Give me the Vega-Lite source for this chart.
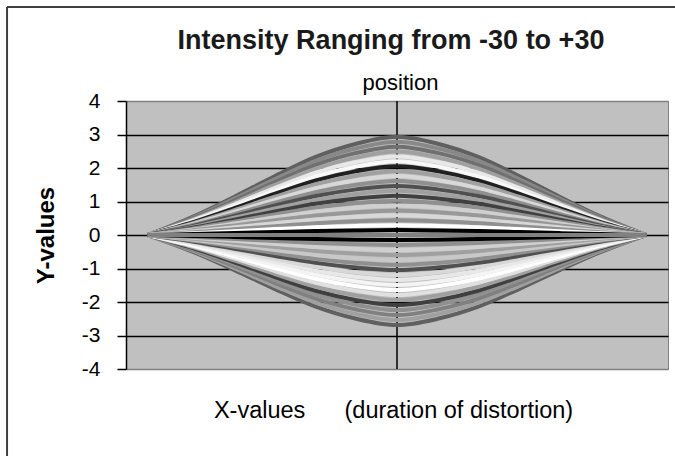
{
  "$schema": "https://vega.github.io/schema/vega-lite/v6.json",
  "width": 542,
  "height": 268,
  "autosize": {"type": "none"},
  "padding": {"left": 126, "top": 101, "right": 7, "bottom": 87},
  "background": "#ffffff",
  "title": {"text": "Intensity Ranging from -30 to +30", "fontSize": 27, "fontWeight": "bold", "font": "Liberation Sans", "color": "#1a1a1a", "anchor": "middle", "frame": "group", "dx": -6, "baseline": "alphabetic", "offset": -70},
  "config": {"view": {"fill": "#c0c0c0", "stroke": "#808080", "strokeWidth": 1}},
  "resolve": {"axis": {"x": "independent", "y": "independent"}},
  "datasets": {
    "curves": [
{"s":"u20","x":-9.2,"y":0},{"s":"u20","x":-7.5,"y":0.557},{"s":"u20","x":-6,"y":1.143},{"s":"u20","x":-4.5,"y":1.758},{"s":"u20","x":-3,"y":2.329},{"s":"u20","x":-1.5,"y":2.725},{"s":"u20","x":0,"y":2.93},{"s":"u20","x":1.5,"y":2.725},{"s":"u20","x":3,"y":2.329},{"s":"u20","x":4.5,"y":1.758},{"s":"u20","x":6,"y":1.143},{"s":"u20","x":7.5,"y":0.557},{"s":"u20","x":9.2,"y":0},
{"s":"d18","x":-9.2,"y":0},{"s":"d18","x":-7.5,"y":-0.511},{"s":"d18","x":-6,"y":-1.049},{"s":"d18","x":-4.5,"y":-1.614},{"s":"d18","x":-3,"y":-2.139},{"s":"d18","x":-1.5,"y":-2.502},{"s":"d18","x":0,"y":-2.69},{"s":"d18","x":1.5,"y":-2.502},{"s":"d18","x":3,"y":-2.139},{"s":"d18","x":4.5,"y":-1.614},{"s":"d18","x":6,"y":-1.049},{"s":"d18","x":7.5,"y":-0.511},{"s":"d18","x":9.2,"y":0},
{"s":"u19","x":-9.2,"y":0},{"s":"u19","x":-7.5,"y":0.529},{"s":"u19","x":-6,"y":1.086},{"s":"u19","x":-4.5,"y":1.67},{"s":"u19","x":-3,"y":2.213},{"s":"u19","x":-1.5,"y":2.589},{"s":"u19","x":0,"y":2.784},{"s":"u19","x":1.5,"y":2.589},{"s":"u19","x":3,"y":2.213},{"s":"u19","x":4.5,"y":1.67},{"s":"u19","x":6,"y":1.086},{"s":"u19","x":7.5,"y":0.529},{"s":"u19","x":9.2,"y":0},
{"s":"d17","x":-9.2,"y":0},{"s":"d17","x":-7.5,"y":-0.483},{"s":"d17","x":-6,"y":-0.991},{"s":"d17","x":-4.5,"y":-1.524},{"s":"d17","x":-3,"y":-2.02},{"s":"d17","x":-1.5,"y":-2.363},{"s":"d17","x":0,"y":-2.541},{"s":"d17","x":1.5,"y":-2.363},{"s":"d17","x":3,"y":-2.02},{"s":"d17","x":4.5,"y":-1.524},{"s":"d17","x":6,"y":-0.991},{"s":"d17","x":7.5,"y":-0.483},{"s":"d17","x":9.2,"y":0},
{"s":"u18","x":-9.2,"y":0},{"s":"u18","x":-7.5,"y":0.501},{"s":"u18","x":-6,"y":1.028},{"s":"u18","x":-4.5,"y":1.582},{"s":"u18","x":-3,"y":2.096},{"s":"u18","x":-1.5,"y":2.452},{"s":"u18","x":0,"y":2.637},{"s":"u18","x":1.5,"y":2.452},{"s":"u18","x":3,"y":2.096},{"s":"u18","x":4.5,"y":1.582},{"s":"u18","x":6,"y":1.028},{"s":"u18","x":7.5,"y":0.501},{"s":"u18","x":9.2,"y":0},
{"s":"d16","x":-9.2,"y":0},{"s":"d16","x":-7.5,"y":-0.454},{"s":"d16","x":-6,"y":-0.933},{"s":"d16","x":-4.5,"y":-1.435},{"s":"d16","x":-3,"y":-1.901},{"s":"d16","x":-1.5,"y":-2.224},{"s":"d16","x":0,"y":-2.391},{"s":"d16","x":1.5,"y":-2.224},{"s":"d16","x":3,"y":-1.901},{"s":"d16","x":4.5,"y":-1.435},{"s":"d16","x":6,"y":-0.933},{"s":"d16","x":7.5,"y":-0.454},{"s":"d16","x":9.2,"y":0},
{"s":"u17","x":-9.2,"y":0},{"s":"u17","x":-7.5,"y":0.473},{"s":"u17","x":-6,"y":0.971},{"s":"u17","x":-4.5,"y":1.494},{"s":"u17","x":-3,"y":1.98},{"s":"u17","x":-1.5,"y":2.316},{"s":"u17","x":0,"y":2.491},{"s":"u17","x":1.5,"y":2.316},{"s":"u17","x":3,"y":1.98},{"s":"u17","x":4.5,"y":1.494},{"s":"u17","x":6,"y":0.971},{"s":"u17","x":7.5,"y":0.473},{"s":"u17","x":9.2,"y":0},
{"s":"d15","x":-9.2,"y":0},{"s":"d15","x":-7.5,"y":-0.426},{"s":"d15","x":-6,"y":-0.874},{"s":"d15","x":-4.5,"y":-1.345},{"s":"d15","x":-3,"y":-1.782},{"s":"d15","x":-1.5,"y":-2.085},{"s":"d15","x":0,"y":-2.242},{"s":"d15","x":1.5,"y":-2.085},{"s":"d15","x":3,"y":-1.782},{"s":"d15","x":4.5,"y":-1.345},{"s":"d15","x":6,"y":-0.874},{"s":"d15","x":7.5,"y":-0.426},{"s":"d15","x":9.2,"y":0},
{"s":"u16","x":-9.2,"y":0},{"s":"u16","x":-7.5,"y":0.445},{"s":"u16","x":-6,"y":0.914},{"s":"u16","x":-4.5,"y":1.406},{"s":"u16","x":-3,"y":1.863},{"s":"u16","x":-1.5,"y":2.18},{"s":"u16","x":0,"y":2.344},{"s":"u16","x":1.5,"y":2.18},{"s":"u16","x":3,"y":1.863},{"s":"u16","x":4.5,"y":1.406},{"s":"u16","x":6,"y":0.914},{"s":"u16","x":7.5,"y":0.445},{"s":"u16","x":9.2,"y":0},
{"s":"d14","x":-9.2,"y":0},{"s":"d14","x":-7.5,"y":-0.398},{"s":"d14","x":-6,"y":-0.816},{"s":"d14","x":-4.5,"y":-1.255},{"s":"d14","x":-3,"y":-1.663},{"s":"d14","x":-1.5,"y":-1.946},{"s":"d14","x":0,"y":-2.092},{"s":"d14","x":1.5,"y":-1.946},{"s":"d14","x":3,"y":-1.663},{"s":"d14","x":4.5,"y":-1.255},{"s":"d14","x":6,"y":-0.816},{"s":"d14","x":7.5,"y":-0.398},{"s":"d14","x":9.2,"y":0},
{"s":"u15","x":-9.2,"y":0},{"s":"u15","x":-7.5,"y":0.418},{"s":"u15","x":-6,"y":0.857},{"s":"u15","x":-4.5,"y":1.319},{"s":"u15","x":-3,"y":1.747},{"s":"u15","x":-1.5,"y":2.044},{"s":"u15","x":0,"y":2.198},{"s":"u15","x":1.5,"y":2.044},{"s":"u15","x":3,"y":1.747},{"s":"u15","x":4.5,"y":1.319},{"s":"u15","x":6,"y":0.857},{"s":"u15","x":7.5,"y":0.418},{"s":"u15","x":9.2,"y":0},
{"s":"d13","x":-9.2,"y":0},{"s":"d13","x":-7.5,"y":-0.369},{"s":"d13","x":-6,"y":-0.758},{"s":"d13","x":-4.5,"y":-1.166},{"s":"d13","x":-3,"y":-1.545},{"s":"d13","x":-1.5,"y":-1.807},{"s":"d13","x":0,"y":-1.943},{"s":"d13","x":1.5,"y":-1.807},{"s":"d13","x":3,"y":-1.545},{"s":"d13","x":4.5,"y":-1.166},{"s":"d13","x":6,"y":-0.758},{"s":"d13","x":7.5,"y":-0.369},{"s":"d13","x":9.2,"y":0},
{"s":"u14","x":-9.2,"y":0},{"s":"u14","x":-7.5,"y":0.39},{"s":"u14","x":-6,"y":0.8},{"s":"u14","x":-4.5,"y":1.231},{"s":"u14","x":-3,"y":1.631},{"s":"u14","x":-1.5,"y":1.907},{"s":"u14","x":0,"y":2.051},{"s":"u14","x":1.5,"y":1.907},{"s":"u14","x":3,"y":1.631},{"s":"u14","x":4.5,"y":1.231},{"s":"u14","x":6,"y":0.8},{"s":"u14","x":7.5,"y":0.39},{"s":"u14","x":9.2,"y":0},
{"s":"d12","x":-9.2,"y":0},{"s":"d12","x":-7.5,"y":-0.341},{"s":"d12","x":-6,"y":-0.699},{"s":"d12","x":-4.5,"y":-1.076},{"s":"d12","x":-3,"y":-1.426},{"s":"d12","x":-1.5,"y":-1.668},{"s":"d12","x":0,"y":-1.793},{"s":"d12","x":1.5,"y":-1.668},{"s":"d12","x":3,"y":-1.426},{"s":"d12","x":4.5,"y":-1.076},{"s":"d12","x":6,"y":-0.699},{"s":"d12","x":7.5,"y":-0.341},{"s":"d12","x":9.2,"y":0},
{"s":"u13","x":-9.2,"y":0},{"s":"u13","x":-7.5,"y":0.362},{"s":"u13","x":-6,"y":0.743},{"s":"u13","x":-4.5,"y":1.143},{"s":"u13","x":-3,"y":1.514},{"s":"u13","x":-1.5,"y":1.771},{"s":"u13","x":0,"y":1.905},{"s":"u13","x":1.5,"y":1.771},{"s":"u13","x":3,"y":1.514},{"s":"u13","x":4.5,"y":1.143},{"s":"u13","x":6,"y":0.743},{"s":"u13","x":7.5,"y":0.362},{"s":"u13","x":9.2,"y":0},
{"s":"d11","x":-9.2,"y":0},{"s":"d11","x":-7.5,"y":-0.312},{"s":"d11","x":-6,"y":-0.641},{"s":"d11","x":-4.5,"y":-0.986},{"s":"d11","x":-3,"y":-1.307},{"s":"d11","x":-1.5,"y":-1.529},{"s":"d11","x":0,"y":-1.644},{"s":"d11","x":1.5,"y":-1.529},{"s":"d11","x":3,"y":-1.307},{"s":"d11","x":4.5,"y":-0.986},{"s":"d11","x":6,"y":-0.641},{"s":"d11","x":7.5,"y":-0.312},{"s":"d11","x":9.2,"y":0},
{"s":"u12","x":-9.2,"y":0},{"s":"u12","x":-7.5,"y":0.334},{"s":"u12","x":-6,"y":0.686},{"s":"u12","x":-4.5,"y":1.055},{"s":"u12","x":-3,"y":1.398},{"s":"u12","x":-1.5,"y":1.635},{"s":"u12","x":0,"y":1.758},{"s":"u12","x":1.5,"y":1.635},{"s":"u12","x":3,"y":1.398},{"s":"u12","x":4.5,"y":1.055},{"s":"u12","x":6,"y":0.686},{"s":"u12","x":7.5,"y":0.334},{"s":"u12","x":9.2,"y":0},
{"s":"d10","x":-9.2,"y":0},{"s":"d10","x":-7.5,"y":-0.284},{"s":"d10","x":-6,"y":-0.583},{"s":"d10","x":-4.5,"y":-0.897},{"s":"d10","x":-3,"y":-1.188},{"s":"d10","x":-1.5,"y":-1.39},{"s":"d10","x":0,"y":-1.494},{"s":"d10","x":1.5,"y":-1.39},{"s":"d10","x":3,"y":-1.188},{"s":"d10","x":4.5,"y":-0.897},{"s":"d10","x":6,"y":-0.583},{"s":"d10","x":7.5,"y":-0.284},{"s":"d10","x":9.2,"y":0},
{"s":"u11","x":-9.2,"y":0},{"s":"u11","x":-7.5,"y":0.306},{"s":"u11","x":-6,"y":0.628},{"s":"u11","x":-4.5,"y":0.967},{"s":"u11","x":-3,"y":1.281},{"s":"u11","x":-1.5,"y":1.499},{"s":"u11","x":0,"y":1.612},{"s":"u11","x":1.5,"y":1.499},{"s":"u11","x":3,"y":1.281},{"s":"u11","x":4.5,"y":0.967},{"s":"u11","x":6,"y":0.628},{"s":"u11","x":7.5,"y":0.306},{"s":"u11","x":9.2,"y":0},
{"s":"d09","x":-9.2,"y":0},{"s":"d09","x":-7.5,"y":-0.256},{"s":"d09","x":-6,"y":-0.525},{"s":"d09","x":-4.5,"y":-0.807},{"s":"d09","x":-3,"y":-1.069},{"s":"d09","x":-1.5,"y":-1.251},{"s":"d09","x":0,"y":-1.345},{"s":"d09","x":1.5,"y":-1.251},{"s":"d09","x":3,"y":-1.069},{"s":"d09","x":4.5,"y":-0.807},{"s":"d09","x":6,"y":-0.525},{"s":"d09","x":7.5,"y":-0.256},{"s":"d09","x":9.2,"y":0},
{"s":"u10","x":-9.2,"y":0},{"s":"u10","x":-7.5,"y":0.278},{"s":"u10","x":-6,"y":0.571},{"s":"u10","x":-4.5,"y":0.879},{"s":"u10","x":-3,"y":1.165},{"s":"u10","x":-1.5,"y":1.362},{"s":"u10","x":0,"y":1.465},{"s":"u10","x":1.5,"y":1.362},{"s":"u10","x":3,"y":1.165},{"s":"u10","x":4.5,"y":0.879},{"s":"u10","x":6,"y":0.571},{"s":"u10","x":7.5,"y":0.278},{"s":"u10","x":9.2,"y":0},
{"s":"d08","x":-9.2,"y":0},{"s":"d08","x":-7.5,"y":-0.227},{"s":"d08","x":-6,"y":-0.466},{"s":"d08","x":-4.5,"y":-0.717},{"s":"d08","x":-3,"y":-0.95},{"s":"d08","x":-1.5,"y":-1.112},{"s":"d08","x":0,"y":-1.196},{"s":"d08","x":1.5,"y":-1.112},{"s":"d08","x":3,"y":-0.95},{"s":"d08","x":4.5,"y":-0.717},{"s":"d08","x":6,"y":-0.466},{"s":"d08","x":7.5,"y":-0.227},{"s":"d08","x":9.2,"y":0},
{"s":"u09","x":-9.2,"y":0},{"s":"u09","x":-7.5,"y":0.251},{"s":"u09","x":-6,"y":0.514},{"s":"u09","x":-4.5,"y":0.791},{"s":"u09","x":-3,"y":1.048},{"s":"u09","x":-1.5,"y":1.226},{"s":"u09","x":0,"y":1.319},{"s":"u09","x":1.5,"y":1.226},{"s":"u09","x":3,"y":1.048},{"s":"u09","x":4.5,"y":0.791},{"s":"u09","x":6,"y":0.514},{"s":"u09","x":7.5,"y":0.251},{"s":"u09","x":9.2,"y":0},
{"s":"d07","x":-9.2,"y":0},{"s":"d07","x":-7.5,"y":-0.199},{"s":"d07","x":-6,"y":-0.408},{"s":"d07","x":-4.5,"y":-0.628},{"s":"d07","x":-3,"y":-0.832},{"s":"d07","x":-1.5,"y":-0.973},{"s":"d07","x":0,"y":-1.046},{"s":"d07","x":1.5,"y":-0.973},{"s":"d07","x":3,"y":-0.832},{"s":"d07","x":4.5,"y":-0.628},{"s":"d07","x":6,"y":-0.408},{"s":"d07","x":7.5,"y":-0.199},{"s":"d07","x":9.2,"y":0},
{"s":"u08","x":-9.2,"y":0},{"s":"u08","x":-7.5,"y":0.223},{"s":"u08","x":-6,"y":0.457},{"s":"u08","x":-4.5,"y":0.703},{"s":"u08","x":-3,"y":0.932},{"s":"u08","x":-1.5,"y":1.09},{"s":"u08","x":0,"y":1.172},{"s":"u08","x":1.5,"y":1.09},{"s":"u08","x":3,"y":0.932},{"s":"u08","x":4.5,"y":0.703},{"s":"u08","x":6,"y":0.457},{"s":"u08","x":7.5,"y":0.223},{"s":"u08","x":9.2,"y":0},
{"s":"d06","x":-9.2,"y":0},{"s":"d06","x":-7.5,"y":-0.17},{"s":"d06","x":-6,"y":-0.35},{"s":"d06","x":-4.5,"y":-0.538},{"s":"d06","x":-3,"y":-0.713},{"s":"d06","x":-1.5,"y":-0.834},{"s":"d06","x":0,"y":-0.897},{"s":"d06","x":1.5,"y":-0.834},{"s":"d06","x":3,"y":-0.713},{"s":"d06","x":4.5,"y":-0.538},{"s":"d06","x":6,"y":-0.35},{"s":"d06","x":7.5,"y":-0.17},{"s":"d06","x":9.2,"y":0},
{"s":"u07","x":-9.2,"y":0},{"s":"u07","x":-7.5,"y":0.195},{"s":"u07","x":-6,"y":0.4},{"s":"u07","x":-4.5,"y":0.615},{"s":"u07","x":-3,"y":0.815},{"s":"u07","x":-1.5,"y":0.954},{"s":"u07","x":0,"y":1.026},{"s":"u07","x":1.5,"y":0.954},{"s":"u07","x":3,"y":0.815},{"s":"u07","x":4.5,"y":0.615},{"s":"u07","x":6,"y":0.4},{"s":"u07","x":7.5,"y":0.195},{"s":"u07","x":9.2,"y":0},
{"s":"d05","x":-9.2,"y":0},{"s":"d05","x":-7.5,"y":-0.142},{"s":"d05","x":-6,"y":-0.291},{"s":"d05","x":-4.5,"y":-0.448},{"s":"d05","x":-3,"y":-0.594},{"s":"d05","x":-1.5,"y":-0.695},{"s":"d05","x":0,"y":-0.747},{"s":"d05","x":1.5,"y":-0.695},{"s":"d05","x":3,"y":-0.594},{"s":"d05","x":4.5,"y":-0.448},{"s":"d05","x":6,"y":-0.291},{"s":"d05","x":7.5,"y":-0.142},{"s":"d05","x":9.2,"y":0},
{"s":"u06","x":-9.2,"y":0},{"s":"u06","x":-7.5,"y":0.167},{"s":"u06","x":-6,"y":0.343},{"s":"u06","x":-4.5,"y":0.527},{"s":"u06","x":-3,"y":0.699},{"s":"u06","x":-1.5,"y":0.817},{"s":"u06","x":0,"y":0.879},{"s":"u06","x":1.5,"y":0.817},{"s":"u06","x":3,"y":0.699},{"s":"u06","x":4.5,"y":0.527},{"s":"u06","x":6,"y":0.343},{"s":"u06","x":7.5,"y":0.167},{"s":"u06","x":9.2,"y":0},
{"s":"d04","x":-9.2,"y":0},{"s":"d04","x":-7.5,"y":-0.114},{"s":"d04","x":-6,"y":-0.233},{"s":"d04","x":-4.5,"y":-0.359},{"s":"d04","x":-3,"y":-0.475},{"s":"d04","x":-1.5,"y":-0.556},{"s":"d04","x":0,"y":-0.598},{"s":"d04","x":1.5,"y":-0.556},{"s":"d04","x":3,"y":-0.475},{"s":"d04","x":4.5,"y":-0.359},{"s":"d04","x":6,"y":-0.233},{"s":"d04","x":7.5,"y":-0.114},{"s":"d04","x":9.2,"y":0},
{"s":"u05","x":-9.2,"y":0},{"s":"u05","x":-7.5,"y":0.139},{"s":"u05","x":-6,"y":0.286},{"s":"u05","x":-4.5,"y":0.44},{"s":"u05","x":-3,"y":0.582},{"s":"u05","x":-1.5,"y":0.681},{"s":"u05","x":0,"y":0.733},{"s":"u05","x":1.5,"y":0.681},{"s":"u05","x":3,"y":0.582},{"s":"u05","x":4.5,"y":0.44},{"s":"u05","x":6,"y":0.286},{"s":"u05","x":7.5,"y":0.139},{"s":"u05","x":9.2,"y":0},
{"s":"d03","x":-9.2,"y":0},{"s":"d03","x":-7.5,"y":-0.085},{"s":"d03","x":-6,"y":-0.175},{"s":"d03","x":-4.5,"y":-0.269},{"s":"d03","x":-3,"y":-0.356},{"s":"d03","x":-1.5,"y":-0.417},{"s":"d03","x":0,"y":-0.448},{"s":"d03","x":1.5,"y":-0.417},{"s":"d03","x":3,"y":-0.356},{"s":"d03","x":4.5,"y":-0.269},{"s":"d03","x":6,"y":-0.175},{"s":"d03","x":7.5,"y":-0.085},{"s":"d03","x":9.2,"y":0},
{"s":"u04","x":-9.2,"y":0},{"s":"u04","x":-7.5,"y":0.111},{"s":"u04","x":-6,"y":0.229},{"s":"u04","x":-4.5,"y":0.352},{"s":"u04","x":-3,"y":0.466},{"s":"u04","x":-1.5,"y":0.545},{"s":"u04","x":0,"y":0.586},{"s":"u04","x":1.5,"y":0.545},{"s":"u04","x":3,"y":0.466},{"s":"u04","x":4.5,"y":0.352},{"s":"u04","x":6,"y":0.229},{"s":"u04","x":7.5,"y":0.111},{"s":"u04","x":9.2,"y":0},
{"s":"d02","x":-9.2,"y":0},{"s":"d02","x":-7.5,"y":-0.057},{"s":"d02","x":-6,"y":-0.117},{"s":"d02","x":-4.5,"y":-0.179},{"s":"d02","x":-3,"y":-0.238},{"s":"d02","x":-1.5,"y":-0.278},{"s":"d02","x":0,"y":-0.299},{"s":"d02","x":1.5,"y":-0.278},{"s":"d02","x":3,"y":-0.238},{"s":"d02","x":4.5,"y":-0.179},{"s":"d02","x":6,"y":-0.117},{"s":"d02","x":7.5,"y":-0.057},{"s":"d02","x":9.2,"y":0},
{"s":"u03","x":-9.2,"y":0},{"s":"u03","x":-7.5,"y":0.084},{"s":"u03","x":-6,"y":0.171},{"s":"u03","x":-4.5,"y":0.264},{"s":"u03","x":-3,"y":0.349},{"s":"u03","x":-1.5,"y":0.409},{"s":"u03","x":0,"y":0.44},{"s":"u03","x":1.5,"y":0.409},{"s":"u03","x":3,"y":0.349},{"s":"u03","x":4.5,"y":0.264},{"s":"u03","x":6,"y":0.171},{"s":"u03","x":7.5,"y":0.084},{"s":"u03","x":9.2,"y":0},
{"s":"d01","x":-9.2,"y":0},{"s":"d01","x":-7.5,"y":-0.028},{"s":"d01","x":-6,"y":-0.058},{"s":"d01","x":-4.5,"y":-0.09},{"s":"d01","x":-3,"y":-0.119},{"s":"d01","x":-1.5,"y":-0.139},{"s":"d01","x":0,"y":-0.149},{"s":"d01","x":1.5,"y":-0.139},{"s":"d01","x":3,"y":-0.119},{"s":"d01","x":4.5,"y":-0.09},{"s":"d01","x":6,"y":-0.058},{"s":"d01","x":7.5,"y":-0.028},{"s":"d01","x":9.2,"y":0},
{"s":"u02","x":-9.2,"y":0},{"s":"u02","x":-7.5,"y":0.056},{"s":"u02","x":-6,"y":0.114},{"s":"u02","x":-4.5,"y":0.176},{"s":"u02","x":-3,"y":0.233},{"s":"u02","x":-1.5,"y":0.272},{"s":"u02","x":0,"y":0.293},{"s":"u02","x":1.5,"y":0.272},{"s":"u02","x":3,"y":0.233},{"s":"u02","x":4.5,"y":0.176},{"s":"u02","x":6,"y":0.114},{"s":"u02","x":7.5,"y":0.056},{"s":"u02","x":9.2,"y":0},
{"s":"u01","x":-9.2,"y":0},{"s":"u01","x":-7.5,"y":0.028},{"s":"u01","x":-6,"y":0.057},{"s":"u01","x":-4.5,"y":0.088},{"s":"u01","x":-3,"y":0.116},{"s":"u01","x":-1.5,"y":0.136},{"s":"u01","x":0,"y":0.147},{"s":"u01","x":1.5,"y":0.136},{"s":"u01","x":3,"y":0.116},{"s":"u01","x":4.5,"y":0.088},{"s":"u01","x":6,"y":0.057},{"s":"u01","x":7.5,"y":0.028},{"s":"u01","x":9.2,"y":0},
{"s":"z","x":-9.2,"y":0},{"s":"z","x":0,"y":0},{"s":"z","x":9.2,"y":0}
    ]
  },
  "layer": [
    {
      "data": {"values": [{}]},
      "mark": {"type": "rule", "color": "#000000", "strokeWidth": 1.5},
      "encoding": {
        "x": {"datum": 0, "type": "quantitative", "scale": {"domain": [-10, 10], "nice": false, "zero": false},
          "axis": {"orient": "top", "title": "position", "labels": false, "ticks": false, "domain": false, "grid": false, "titleFont": "Liberation Sans", "titleFontSize": 22, "titleFontWeight": "normal", "titleColor": "#000000", "titleBaseline": "alphabetic", "titleAlign": "center", "titleX": 274, "titleY": -12}}
      }
    },
    {
      "data": {"name": "curves"},
      "mark": {"type": "line", "interpolate": "monotone", "strokeWidth": 4},
      "encoding": {
        "x": {"field": "x", "type": "quantitative", "scale": {"domain": [-10, 10], "nice": false, "zero": false},
          "axis": {"orient": "bottom", "title": "X-values\u00a0\u00a0\u00a0\u00a0\u00a0 (duration of distortion)", "labels": false, "ticks": false, "domain": false, "grid": false, "titleFont": "Liberation Sans", "titleFontSize": 23.5, "titleFontWeight": "normal", "titleColor": "#000000", "titleBaseline": "alphabetic", "titleAlign": "center", "titleX": 267, "titleY": 48}},
        "y": {"field": "y", "type": "quantitative", "scale": {"domain": [-4, 4], "nice": false, "zero": false},
          "axis": {"orient": "left", "values": [-4, -3, -2, -1, 0, 1, 2, 3, 4], "labelExpr": "'' + datum.value", "labelFont": "Liberation Sans", "labelFontSize": 21, "labelColor": "#000000", "labelPadding": 17, "labelOverlap": false, "labelFlush": false, "tickSize": 9, "tickColor": "#000000", "tickWidth": 1.5, "domainColor": "#000000", "domainWidth": 1.5, "grid": true, "gridColor": {"condition": {"test": "datum.value === 4 || datum.value === -4", "value": "#808080"}, "value": "#000000"}, "gridWidth": 1.3, "gridOpacity": 1,
            "title": "Y-values", "titleFont": "Liberation Sans", "titleFontSize": 24, "titleFontWeight": "bold", "titleColor": "#000000", "titleAngle": -90, "titleAlign": "center", "titleBaseline": "middle", "titleX": -80, "titleY": 134}},
        "color": {"field": "s", "type": "nominal", "legend": null,
          "scale": {
            "domain": ["u01","u02","u03","u04","u05","u06","u07","u08","u09","u10","u11","u12","u13","u14","u15","u16","u17","u18","u19","u20","d01","d02","d03","d04","d05","d06","d07","d08","d09","d10","d11","d12","d13","d14","d15","d16","d17","d18","z"],
            "range": ["#000000","#ffffff","#909090","#d8d8d8","#989898","#d0d0d0","#909090","#404040","#a0a0a0","#505050","#909090","#d8d8d8","#a0a0a0","#202020","#f8f8f8","#e8e8e8","#a0a0a0","#707070","#888888","#606060","#000000","#909090","#d0d0d0","#a0a0a0","#c8c8c8","#909090","#505050","#d8d8d8","#e8e8e8","#f4f4f4","#ffffff","#e0e0e0","#a0a0a0","#404040","#909090","#808080","#a0a0a0","#606060","#808080"]
          }}
      }
    },
    {
      "data": {"values": [{}]},
      "mark": {"type": "rule", "color": "#404040", "strokeWidth": 2},
      "encoding": {
        "x": {"datum": -14.39, "type": "quantitative", "scale": {"domain": [-10, 10], "nice": false, "zero": false}, "axis": null},
        "y": {"datum": 6.806, "type": "quantitative", "scale": {"domain": [-4, 4], "nice": false, "zero": false}, "axis": null},
        "y2": {"datum": -7}
      }
    },
    {
      "data": {"values": [{}]},
      "mark": {"type": "rule", "color": "#404040", "strokeWidth": 2},
      "encoding": {
        "y": {"datum": 6.806, "type": "quantitative", "scale": {"domain": [-4, 4], "nice": false, "zero": false}, "axis": null},
        "x": {"datum": -14.39, "type": "quantitative", "scale": {"domain": [-10, 10], "nice": false, "zero": false}, "axis": null},
        "x2": {"datum": 11}
      }
    }
  ]
}
